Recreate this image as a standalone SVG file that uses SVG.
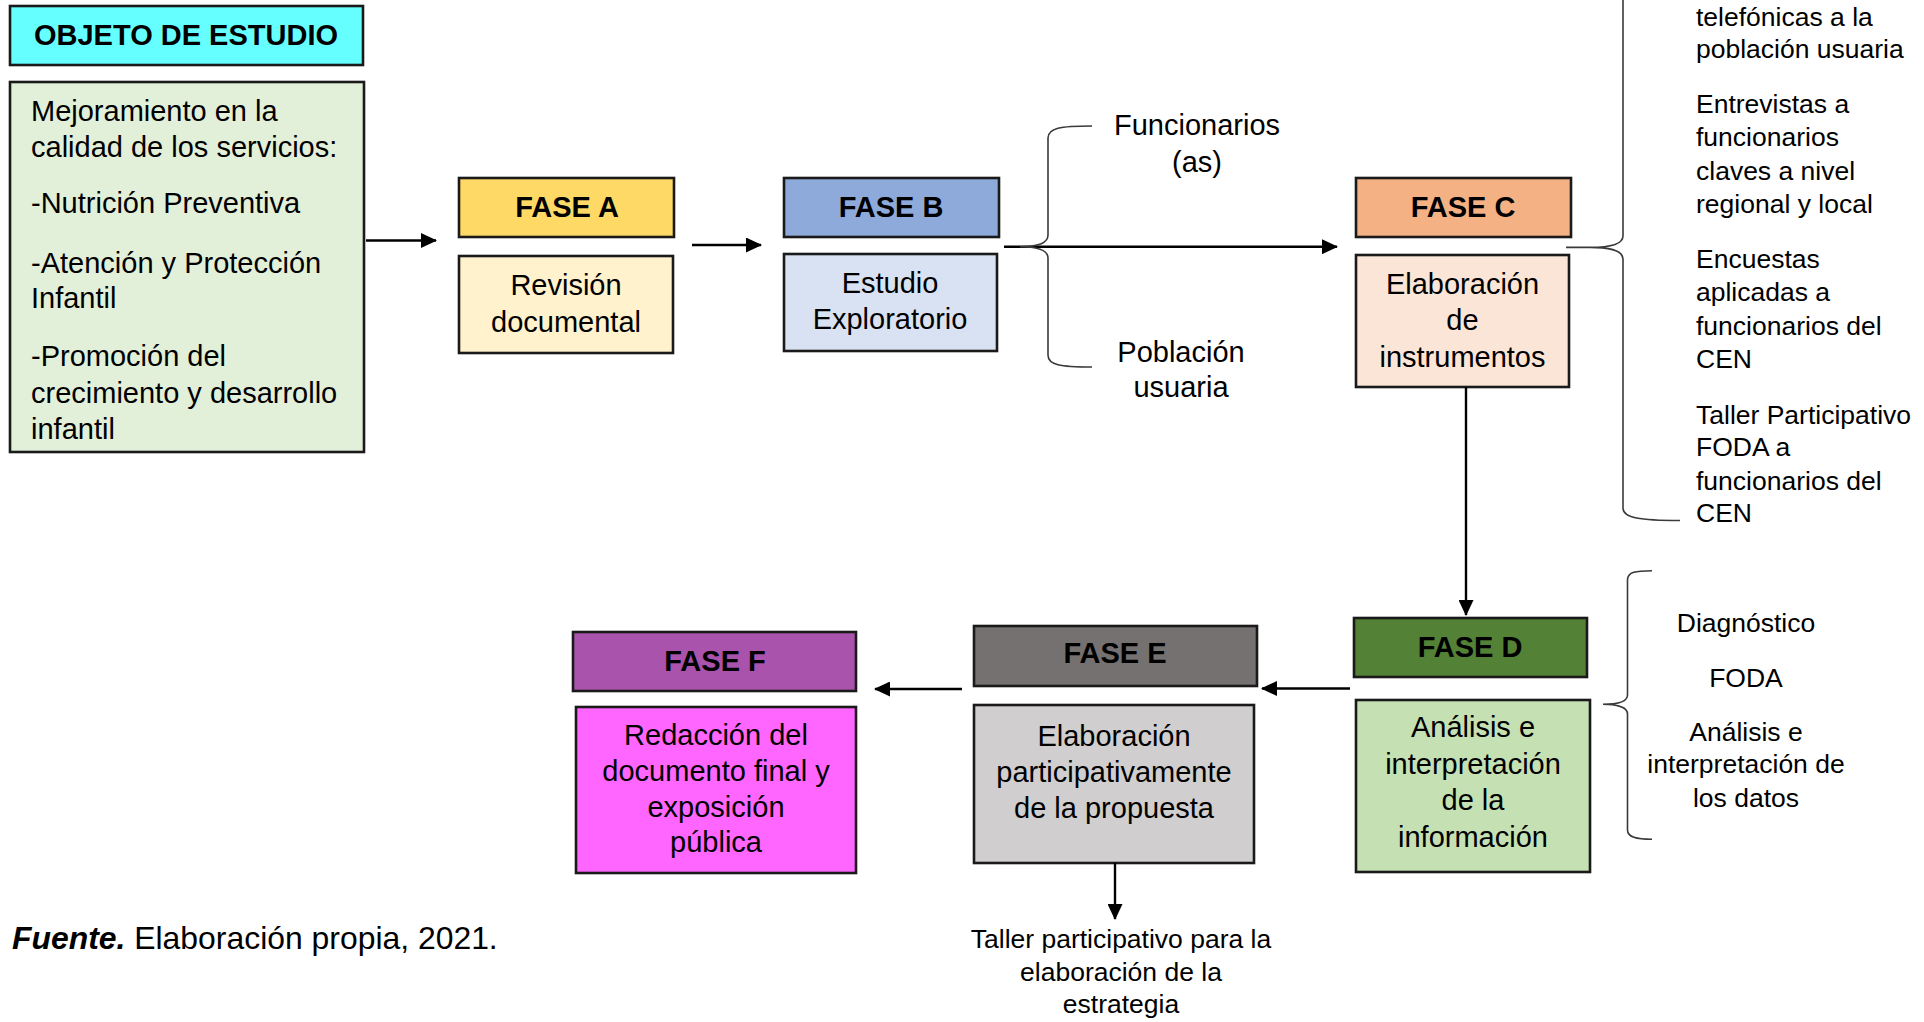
<svg xmlns="http://www.w3.org/2000/svg" width="1924" height="1022" viewBox="0 0 1924 1022">
  <style>
    text { font-family: "Liberation Sans", Arial, sans-serif; fill: #000; }
    .hd { font-weight: bold; font-size: 29px; text-anchor: middle; }
    .bx { font-size: 29px; text-anchor: middle; }
    .lbl { font-size: 29px; text-anchor: middle; }
    .side { font-size: 26.5px; }
    .sidec { font-size: 26.5px; text-anchor: middle; }
    .box { stroke: #1a1a1a; stroke-width: 2.6; }
    .conn { stroke: #000; stroke-width: 2.4; fill: none; }
    .brace { stroke: #3a3a3a; stroke-width: 1.6; fill: none; }
  </style>
  <defs>
    <marker id="arrow" viewBox="0 0 16 15" refX="15" refY="7.5" markerWidth="16" markerHeight="15" markerUnits="userSpaceOnUse" orient="auto">
      <path d="M0,0 L16,7.5 L0,15 z" fill="#000"/>
    </marker>
  </defs>
  <rect width="1924" height="1022" fill="#fff"/>

  <!-- Object of study -->
  <g id="objeto">
    <rect class="box" x="10" y="6" width="353" height="59" fill="#66FFFF"/>
    <text class="hd" x="186" y="45">OBJETO DE ESTUDIO</text>
  </g>
  <g id="mejoramiento">
    <rect class="box" x="10" y="82" width="354" height="370" fill="#E2EFD9"/>
    <text font-size="29" x="31" y="120.5">Mejoramiento en la</text>
    <text font-size="29" x="31" y="157">calidad de los servicios:</text>
    <text font-size="29" x="31" y="213">-Nutrición Preventiva</text>
    <text font-size="29" x="31" y="272.5">-Atención y Protección</text>
    <text font-size="29" x="31" y="308">Infantil</text>
    <text font-size="29" x="31" y="366">-Promoción del</text>
    <text font-size="29" x="31" y="403">crecimiento y desarrollo</text>
    <text font-size="29" x="31" y="439">infantil</text>
  </g>

  <!-- Phase A -->
  <g id="fase-a">
    <rect class="box" x="459" y="178" width="215" height="59" fill="#FFD966"/>
    <text class="hd" x="567" y="217">FASE A</text>
    <rect class="box" x="459" y="256" width="214" height="97" fill="#FFF2CC"/>
    <text class="bx" x="566" y="295">Revisión</text>
    <text class="bx" x="566" y="331.5">documental</text>
  </g>

  <!-- Phase B -->
  <g id="fase-b">
    <rect class="box" x="784" y="178" width="215" height="59" fill="#8EAADB"/>
    <text class="hd" x="891" y="217">FASE B</text>
    <rect class="box" x="784" y="254" width="213" height="97" fill="#D9E2F3"/>
    <text class="bx" x="890" y="292.5">Estudio</text>
    <text class="bx" x="890" y="328.5">Exploratorio</text>
  </g>

  <!-- Phase B groups -->
  <g id="grupos-b">
    <text class="lbl" x="1197" y="135">Funcionarios</text>
    <text class="lbl" x="1197" y="172">(as)</text>
    <text class="lbl" x="1181" y="362">Población</text>
    <text class="lbl" x="1181" y="397">usuaria</text>
  </g>

  <!-- Phase C -->
  <g id="fase-c">
    <rect class="box" x="1356" y="178" width="215" height="59" fill="#F4B183"/>
    <text class="hd" x="1463" y="217">FASE C</text>
    <rect class="box" x="1356" y="255" width="213" height="132" fill="#FBE5D6"/>
    <text class="bx" x="1462.5" y="294">Elaboración</text>
    <text class="bx" x="1462.5" y="330">de</text>
    <text class="bx" x="1462.5" y="367">instrumentos</text>
  </g>

  <!-- Phase C instruments -->
  <g id="instrumentos-c">
    <text class="side" x="1696" y="26">telefónicas a la</text>
    <text class="side" x="1696" y="57.5">población usuaria</text>
    <text class="side" x="1696" y="113">Entrevistas a</text>
    <text class="side" x="1696" y="146">funcionarios</text>
    <text class="side" x="1696" y="179.5">claves a nivel</text>
    <text class="side" x="1696" y="212.5">regional y local</text>
    <text class="side" x="1696" y="268">Encuestas</text>
    <text class="side" x="1696" y="300.5">aplicadas a</text>
    <text class="side" x="1696" y="335">funcionarios del</text>
    <text class="side" x="1696" y="368">CEN</text>
    <text class="side" x="1696" y="424">Taller Participativo</text>
    <text class="side" x="1696" y="455.5">FODA a</text>
    <text class="side" x="1696" y="490">funcionarios del</text>
    <text class="side" x="1696" y="522">CEN</text>
  </g>

  <!-- Phase D -->
  <g id="fase-d">
    <rect class="box" x="1354" y="618" width="233" height="59" fill="#538135"/>
    <text class="hd" x="1470" y="657">FASE D</text>
    <rect class="box" x="1356" y="700" width="234" height="172" fill="#C5E0B3"/>
    <text class="bx" x="1473" y="737">Análisis e</text>
    <text class="bx" x="1473" y="774">interpretación</text>
    <text class="bx" x="1473" y="810">de la</text>
    <text class="bx" x="1473" y="847">información</text>
  </g>

  <!-- Phase D outputs -->
  <g id="resultados-d">
    <text class="sidec" x="1746" y="632">Diagnóstico</text>
    <text class="sidec" x="1746" y="687">FODA</text>
    <text class="sidec" x="1746" y="741">Análisis e</text>
    <text class="sidec" x="1746" y="773">interpretación de</text>
    <text class="sidec" x="1746" y="807">los datos</text>
  </g>

  <!-- Phase E -->
  <g id="fase-e">
    <rect class="box" x="974" y="626" width="283" height="60" fill="#767171"/>
    <text class="hd" x="1115" y="663">FASE E</text>
    <rect class="box" x="974" y="705" width="280" height="158" fill="#D0CECE"/>
    <text class="bx" x="1114" y="745.5">Elaboración</text>
    <text class="bx" x="1114" y="782">participativamente</text>
    <text class="bx" x="1114" y="818">de la propuesta</text>
  </g>

  <!-- Phase E workshop -->
  <g id="taller-e">
    <text class="sidec" x="1121" y="948">Taller participativo para la</text>
    <text class="sidec" x="1121" y="980.5">elaboración de la</text>
    <text class="sidec" x="1121" y="1013">estrategia</text>
  </g>

  <!-- Phase F -->
  <g id="fase-f">
    <rect class="box" x="573" y="632" width="283" height="59" fill="#A953AD"/>
    <text class="hd" x="715" y="671">FASE F</text>
    <rect class="box" x="576" y="707" width="280" height="166" fill="#FF66FF"/>
    <text class="bx" x="716" y="745">Redacción del</text>
    <text class="bx" x="716" y="781">documento final y</text>
    <text class="bx" x="716" y="817">exposición</text>
    <text class="bx" x="716" y="852">pública</text>
  </g>

  <!-- Source note -->
  <g id="fuente">
    <text font-size="31.9" x="12" y="949"><tspan font-weight="bold" font-style="italic">Fuente.</tspan> Elaboración propia, 2021.</text>
  </g>

  <!-- Connectors and braces -->
  <g id="connectors">
    <line class="conn" x1="366" y1="240.5" x2="436" y2="240.5" marker-end="url(#arrow)"/>
    <line class="conn" x1="692" y1="245" x2="761" y2="245" marker-end="url(#arrow)"/>
    <line class="conn" x1="1004" y1="246.7" x2="1337" y2="246.7" marker-end="url(#arrow)"/>
    <line class="conn" x1="1466" y1="387" x2="1466" y2="615" marker-end="url(#arrow)"/>
    <line class="conn" x1="1350" y1="688.5" x2="1262" y2="688.5" marker-end="url(#arrow)"/>
    <line class="conn" x1="962" y1="689" x2="875" y2="689" marker-end="url(#arrow)"/>
    <line class="conn" x1="1115" y1="863" x2="1115" y2="919" marker-end="url(#arrow)"/>

    <path class="brace" d="M1092,126 C1060,126 1048,128 1048,138 L1048,235 C1048,244 1036,246.7 1020,246.7 C1036,246.7 1048,249 1048,258 L1048,355 C1048,365 1060,367 1092,367"/>
    <path class="brace" d="M1566,247.4 H1590 C1606,247.4 1623,245 1623,236 L1623,-14 C1623,-24 1640,-26 1680,-26 M1590,247.4 C1606,247.4 1623,250 1623,259 L1623,508 C1623,518 1640,520.5 1680,520.5"/>
    <path class="brace" d="M1652,570.7 C1636,570.7 1627.5,572 1627.5,580 L1627.5,695 C1627.5,702 1616,704.3 1603,704.3 C1616,704.3 1627.5,707 1627.5,714 L1627.5,830 C1627.5,837 1636,839.3 1652,839.3"/>
  </g>
</svg>
